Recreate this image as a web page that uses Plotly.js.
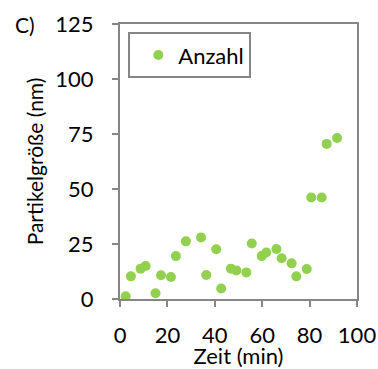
<!DOCTYPE html>
<html>
<head>
<meta charset="utf-8">
<script src="https://cdn.plot.ly/plotly-3.0.1.min.js"></script>
<style>
  html, body { margin: 0; padding: 0; background: #fff; }
  #chart { width: 378px; height: 369px; }
</style>
</head>
<body>
<div id="chart"></div>
<script>
// Particle size over time (series "Anzahl")
const zeitMin = [2.4, 4.6, 8.7, 10.8, 15.0, 17.3, 21.5, 23.6, 27.8, 34.2, 36.4, 40.6, 42.7, 46.8,
                 49.1, 53.3, 55.6, 59.8, 61.7, 66.0, 68.2, 72.4, 74.4, 78.8, 80.7, 85.1, 87.2, 91.6];
const partikelNm = [1.2, 10.3, 13.8, 15.0, 2.6, 10.8, 10.0, 19.5, 26.2, 28.0, 10.9, 22.6, 4.8, 13.8,
                    13.0, 12.1, 25.2, 19.5, 21.1, 22.7, 18.5, 16.2, 10.3, 13.6, 46.1, 46.1, 70.5, 73.2];
const seriesName = 'Anzahl';
const xTicks = [0, 20, 40, 60, 80, 100];
const yTicks = [0, 25, 50, 75, 100, 125];

const axisGray = '#868686';
const family = 'Lato, "Open Sans", sans-serif';
const tickFont = { family: family, size: 22, color: '#000' };

const trace = {
  x: zeitMin,
  y: partikelNm,
  name: seriesName,
  type: 'scatter',
  mode: 'markers',
  marker: { color: '#92d050', size: 10 },
  showlegend: true
};

const axisCommon = {
  showline: true,
  mirror: true,
  linecolor: axisGray,
  linewidth: 2,
  showgrid: false,
  zeroline: false,
  ticks: 'outside',
  ticklen: 6,
  tickwidth: 2,
  tickcolor: axisGray,
  tickfont: tickFont
};

const layout = {
  width: 378,
  height: 369,
  margin: { l: 120, r: 21, t: 24, b: 70 },
  paper_bgcolor: '#fff',
  plot_bgcolor: '#fff',
  font: tickFont,
  showlegend: true,
  xaxis: Object.assign({}, axisCommon, {
    range: [0, 100],
    tickvals: xTicks,
    ticktext: xTicks.map(String),
    ticklabelstandoff: 10,
    title: { text: 'Zeit (min)', font: { family: family, size: 22, color: '#000' }, standoff: 0 }
  }),
  yaxis: Object.assign({}, axisCommon, {
    range: [0, 125],
    tickvals: yTicks,
    ticktext: yTicks.map(String),
    ticklabelstandoff: 14,
    title: { text: 'Partikelgröße (nm)', font: { family: family, size: 21, color: '#000' }, standoff: 6 }
  }),
  legend: {
    x: 0.035, y: 0.97,
    xanchor: 'left', yanchor: 'top',
    bordercolor: axisGray,
    borderwidth: 2,
    bgcolor: '#fff',
    indentation: 8,
    font: { family: family, size: 22, color: '#000' }
  },
  annotations: [{
    text: 'C)', xref: 'paper', yref: 'paper',
    x: -0.45, y: 1.0, xanchor: 'left', yanchor: 'middle',
    showarrow: false, font: { family: family, size: 21, color: '#000' }
  }]
};

Plotly.newPlot('chart', [trace], layout, { displayModeBar: false, staticPlot: true });
</script>
</body>
</html>
